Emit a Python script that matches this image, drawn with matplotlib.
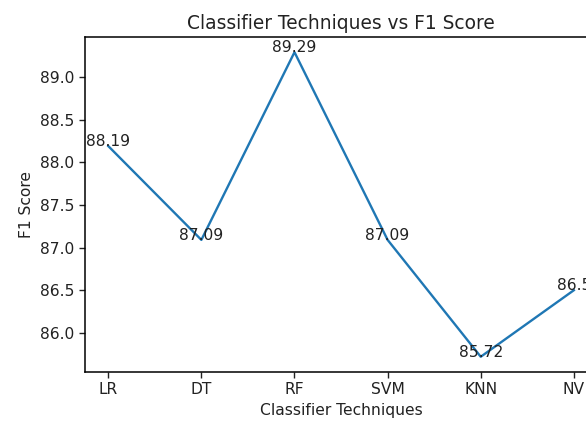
import matplotlib
matplotlib.use("Agg")
import matplotlib.pyplot as plt

# Données
techniques = ["LR", "DT", "RF", "SVM", "KNN", "NV"]
f1_scores = [88.19, 87.09, 89.29, 87.09, 85.72, 86.5]

fig = plt.figure(figsize=(5.86, 4.23), dpi=100)
# l'axe dépasse à droite : la capture d'origine est rognée
ax = fig.add_axes([0.145, 0.1206, 0.874, 0.792])

ax.plot(techniques, f1_scores, color="#1f77b4", linewidth=1.7)
for i, v in enumerate(f1_scores):
    ax.text(i, v, str(v), ha="center", fontsize=11.2, color="#222222")

ax.set_title("Classifier Techniques vs F1 Score", fontsize=13.4, color="#222222")
ax.set_xlabel("Classifier Techniques", fontsize=11.2, color="#222222")
ax.set_ylabel("F1 Score", fontsize=11.2, color="#222222")
ax.tick_params(labelsize=11.2, length=4, width=1, colors="#222222")
for s in ax.spines.values():
    s.set_linewidth(1.1)

fig.savefig("out.png", dpi=100)
